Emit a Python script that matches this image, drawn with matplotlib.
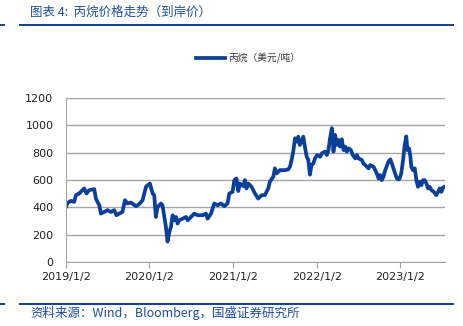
import matplotlib
matplotlib.use('Agg')
import matplotlib.pyplot as plt
import pandas as pd
from matplotlib.lines import Line2D

# propane landed price, USD/t
dates = [
    '2019-01-02', '2019-01-09', '2019-01-24', '2019-02-07', '2019-02-15', '2019-03-01',
    '2019-03-16', '2019-03-23', '2019-04-02', '2019-04-14', '2019-05-06', '2019-05-13',
    '2019-05-20', '2019-05-28', '2019-06-04', '2019-06-18', '2019-07-03', '2019-07-18',
    '2019-08-01', '2019-08-11', '2019-08-23', '2019-09-06', '2019-09-17', '2019-09-28',
    '2019-10-13', '2019-11-04', '2019-11-18', '2019-12-03', '2019-12-18', '2020-01-04',
    '2020-01-16', '2020-01-23', '2020-01-30', '2020-02-06', '2020-02-14', '2020-02-22',
    '2020-02-28', '2020-03-07', '2020-03-14', '2020-03-21', '2020-03-29', '2020-04-05',
    '2020-04-12', '2020-04-19', '2020-04-27', '2020-05-04', '2020-05-11', '2020-05-26',
    '2020-06-10', '2020-06-17', '2020-07-01', '2020-07-16', '2020-07-30', '2020-08-21',
    '2020-09-05', '2020-09-12', '2020-09-27', '2020-10-11', '2020-10-26', '2020-11-09',
    '2020-11-24', '2020-12-08', '2020-12-16', '2020-12-30', '2021-01-07', '2021-01-16',
    '2021-01-24', '2021-01-31', '2021-02-15', '2021-02-22', '2021-03-01', '2021-03-09',
    '2021-03-23', '2021-04-07', '2021-04-21', '2021-05-06', '2021-05-20', '2021-06-04',
    '2021-06-11', '2021-06-26', '2021-07-03', '2021-07-10', '2021-07-25', '2021-08-16',
    '2021-08-30', '2021-09-07', '2021-09-14', '2021-09-21', '2021-09-29', '2021-10-06',
    '2021-10-13', '2021-10-20', '2021-10-28', '2021-11-04', '2021-11-11', '2021-11-19',
    '2021-11-26', '2021-12-03', '2021-12-10', '2021-12-18', '2021-12-25', '2022-01-04',
    '2022-01-17', '2022-01-24', '2022-02-07', '2022-02-15', '2022-02-22', '2022-03-01',
    '2022-03-09', '2022-03-16', '2022-03-23', '2022-03-30', '2022-04-07', '2022-04-14',
    '2022-04-21', '2022-04-29', '2022-05-06', '2022-05-13', '2022-05-20', '2022-05-31',
    '2022-06-08', '2022-06-19', '2022-06-26', '2022-07-03', '2022-07-18', '2022-07-25',
    '2022-08-09', '2022-08-16', '2022-08-23', '2022-09-07', '2022-09-21', '2022-09-29',
    '2022-10-06', '2022-10-13', '2022-10-20', '2022-10-28', '2022-11-11', '2022-11-19',
    '2022-11-26', '2022-12-03', '2022-12-10', '2022-12-18', '2022-12-25', '2022-12-30',
    '2023-01-06', '2023-01-14', '2023-01-21', '2023-01-28', '2023-02-02', '2023-02-09',
    '2023-02-15', '2023-02-19', '2023-02-26', '2023-03-06', '2023-03-13', '2023-03-20',
    '2023-03-27', '2023-04-04', '2023-04-11', '2023-04-18', '2023-04-26', '2023-05-03',
    '2023-05-10', '2023-05-18', '2023-05-28', '2023-06-08', '2023-06-16', '2023-06-23',
    '2023-06-30', '2023-07-07', '2023-07-15',
]
prices = [
    404, 433, 448, 441, 490, 502,
    527, 539, 502, 527, 534, 465,
    441, 416, 355, 367, 380, 367,
    380, 343, 355, 367, 453, 429,
    436, 409, 424, 453, 551, 575,
    502, 490, 330, 400, 416, 429,
    416, 330, 257, 150, 220, 257,
    343, 306, 330, 282, 306, 318,
    330, 306, 330, 355, 343, 343,
    355, 318, 355, 429, 416, 429,
    409, 429, 502, 514, 600, 612,
    520, 575, 556, 600, 539, 575,
    551, 502, 465, 490, 490, 539,
    588, 624, 686, 649, 673, 673,
    678, 698, 747, 808, 906, 882,
    918, 857, 882, 918, 845, 771,
    747, 640, 710, 722, 759, 784,
    771, 796, 808, 784, 820, 906,
    980, 808, 931, 857, 894, 845,
    899, 820, 845, 808, 833, 820,
    784, 759, 784, 759, 747, 722,
    698, 686, 710, 698, 649, 612,
    637, 600, 624, 673, 735, 752,
    722, 686, 649, 612, 605, 612,
    649, 747, 857, 920, 820, 833,
    771, 698, 673, 686, 600, 551,
    588, 563, 600, 600, 575, 539,
    551, 527, 514, 490, 514, 539,
    514, 546, 551,
]
series_name = '丙烷（美元/吨）'
tick_dates = ['2019-01-02', '2020-01-02', '2021-01-02', '2022-01-02', '2023-01-02']
tick_labels = ['2019/1/2', '2020/1/2', '2021/1/2', '2022/1/2', '2023/1/2']

blue = '#0A4098'
cjk = ['Noto Sans CJK SC', 'DejaVu Sans']

fig = plt.figure(figsize=(4.64, 3.26), dpi=100)
ax = fig.add_axes([0.142, 0.196, 0.817, 0.503])

x = pd.to_datetime(dates)
ax.plot(x, prices, color=blue, lw=2.7, label=series_name, solid_joinstyle='round')

ax.set_ylim(0, 1200)
ax.set_yticks(range(0, 1201, 200))
ax.set_xlim(pd.Timestamp('2019-01-02'), pd.Timestamp('2023-07-16'))
ax.set_xticks(pd.to_datetime(tick_dates))
ax.set_xticklabels(tick_labels)
ax.grid(axis='y', color='#A6A6A6', lw=1)
ax.set_axisbelow(True)
for s in ['top', 'right']:
    ax.spines[s].set_visible(False)
for s in ['left', 'bottom']:
    ax.spines[s].set_color('#A6A6A6')
ax.tick_params(axis='y', length=0, pad=9, labelsize=8, labelcolor='#222222')
ax.tick_params(axis='x', length=4, color='#A6A6A6', labelsize=8, labelcolor='#222222', pad=3)

leg = ax.legend(loc='upper center', bbox_to_anchor=(0.48, 1.33), frameon=False,
                handlelength=3.0, handletextpad=0.3, prop={'family': cjk, 'size': 7})
for t in leg.get_texts():
    t.set_color('#333333')

# header and footer rules
for yy in [1 - 25 / 326, 1 - 304 / 326]:
    fig.add_artist(Line2D([20 / 464, 453 / 464], [yy, yy], color=blue, lw=1.4))
    fig.add_artist(Line2D([0, 4 / 464], [yy, yy], color=blue, lw=1.4))

fig.text(30 / 464, 1 - 12 / 326, '图表 4:  丙烷价格走势（到岸价）', color='#1F4E9C',
         fontsize=9, family=cjk, style='italic', va='center', ha='left')
fig.text(30 / 464, 1 - 313 / 326, '资料来源：Wind，Bloomberg，国盛证券研究所', color='#1F4E9C',
         fontsize=9, family=cjk, style='italic', va='center', ha='left')

fig.savefig('out.png', dpi=100)
